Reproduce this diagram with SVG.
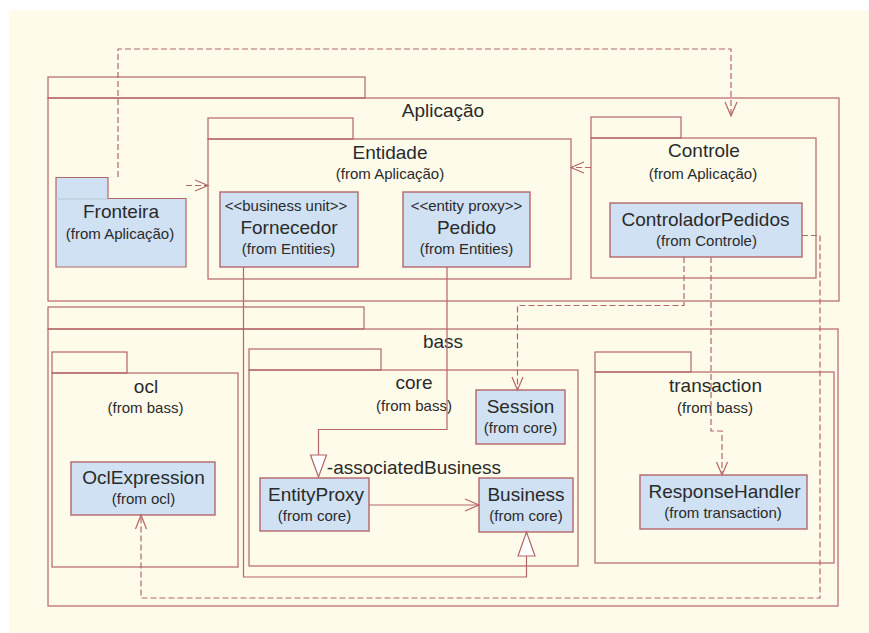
<svg xmlns="http://www.w3.org/2000/svg" width="869" height="633" viewBox="0 0 869 633">
<defs>
<style>
.pk{fill:none;stroke:#B4666A;stroke-width:1.2}
.pf{fill:#CFE1F3;stroke:#B4666A;stroke-width:1.2}
.cl{fill:#CFE1F3;stroke:#B4666A;stroke-width:1.4}
.ln{fill:none;stroke:#B4666A;stroke-width:1.2}
.dl{fill:none;stroke:#B4666A;stroke-width:1.2;stroke-dasharray:6 3}
.ah{fill:none;stroke:#B4666A;stroke-width:1.2}
.tri{fill:#FFFFFF;stroke:#B4666A;stroke-width:1.2}
text{font-family:"Liberation Sans",Arial,sans-serif;fill:#2A2A2A;text-anchor:middle}
.t{font-size:19px}
.s{font-size:15px}
</style>
</defs>
<rect x="0" y="0" width="869" height="633" fill="#FFFFFF"/>
<rect x="9" y="10" width="860" height="623" fill="#FEFBEA"/>

<g id="pkg-aplicacao">
<rect class="pk" x="48" y="77" width="317" height="21"/>
<rect class="pk" x="48" y="98" width="791" height="203"/>
<text class="t" x="443" y="117">Aplicação</text>
</g>
<g id="pkg-entidade">
<rect class="pk" x="208" y="118" width="145" height="21"/>
<rect class="pk" x="208" y="139" width="363" height="140"/>
<text class="t" x="390" y="159">Entidade</text>
<text class="s" x="390" y="179">(from Aplicação)</text>
</g>
<g id="pkg-controle">
<rect class="pk" x="591" y="117" width="90" height="21"/>
<rect class="pk" x="591" y="138" width="225" height="140"/>
<text class="t" x="704" y="157">Controle</text>
<text class="s" x="703" y="179">(from Aplicação)</text>
</g>
<g id="pkg-fronteira">
<path class="pf" d="M56,177.5 H108 V198.5 H186 V267 H56 Z"/>
<line x1="56" y1="199" x2="108" y2="199" stroke="#B9C6D6" stroke-width="1"/>
<text class="t" x="121" y="218">Fronteira</text>
<text class="s" x="120" y="239">(from Aplicação)</text>
</g>
<g id="cls-fornecedor">
<rect class="cl" x="220" y="192" width="138" height="75"/>
<text class="s" x="286" y="210.5">&lt;&lt;business unit&gt;&gt;</text>
<text class="t" x="289" y="234">Fornecedor</text>
<text class="s" x="288.5" y="254">(from Entities)</text>
</g>
<g id="cls-pedido">
<rect class="cl" x="403" y="192" width="127" height="75"/>
<text class="s" x="466.5" y="210.5">&lt;&lt;entity proxy&gt;&gt;</text>
<text class="t" x="466.5" y="234">Pedido</text>
<text class="s" x="466.5" y="254">(from Entities)</text>
</g>
<g id="cls-controladorpedidos">
<rect class="cl" x="610" y="203" width="192" height="54"/>
<text class="t" x="705.5" y="226">ControladorPedidos</text>
<text class="s" x="706.5" y="245.5">(from Controle)</text>
</g>

<g id="pkg-bass">
<rect class="pk" x="48" y="307" width="316" height="22"/>
<rect class="pk" x="48" y="329" width="790" height="277"/>
<text class="t" x="443" y="347.5">bass</text>
</g>
<g id="pkg-ocl">
<rect class="pk" x="52" y="352" width="75" height="21"/>
<rect class="pk" x="52" y="373" width="186" height="194"/>
<text class="t" x="146" y="393">ocl</text>
<text class="s" x="145.5" y="413">(from bass)</text>
</g>
<g id="pkg-core">
<rect class="pk" x="249" y="349" width="132" height="21"/>
<rect class="pk" x="249" y="370" width="329" height="196"/>
<text class="t" x="414" y="389">core</text>
<text class="s" x="414" y="410.5">(from bass)</text>
</g>
<g id="pkg-transaction">
<rect class="pk" x="595" y="352" width="96" height="20"/>
<rect class="pk" x="595" y="372" width="239" height="191"/>
<text class="t" x="715.5" y="391.5">transaction</text>
<text class="s" x="715" y="412.5">(from bass)</text>
</g>
<g id="cls-oclexpression">
<rect class="cl" x="71" y="462" width="144" height="53"/>
<text class="t" x="143.5" y="484">OclExpression</text>
<text class="s" x="143.5" y="504">(from ocl)</text>
</g>
<g id="cls-session">
<rect class="cl" x="476" y="390" width="89" height="54"/>
<text class="t" x="520.5" y="413">Session</text>
<text class="s" x="520.5" y="433">(from core)</text>
</g>
<g id="cls-entityproxy">
<rect class="cl" x="260" y="478" width="109" height="53"/>
<text class="t" x="316" y="501">EntityProxy</text>
<text class="s" x="314.5" y="521">(from core)</text>
</g>
<g id="cls-business">
<rect class="cl" x="479" y="478" width="94" height="54"/>
<text class="t" x="526" y="500.5">Business</text>
<text class="s" x="526" y="521">(from core)</text>
</g>
<g id="cls-responsehandler">
<rect class="cl" x="640" y="475" width="167" height="54"/>
<text class="t" x="724.5" y="497.5">ResponseHandler</text>
<text class="s" x="723" y="517.5">(from transaction)</text>
</g>

<g id="connectors">
<!-- Fronteira -> Controle -->
<path class="dl" d="M118,177 V49 H731 V116"/>
<path class="ah" d="M725,102 L731,116 L737,102"/>
<!-- Fronteira -> Entidade -->
<path class="dl" d="M186,185.5 H207"/>
<path class="ah" d="M195,180 L208,185.5 L195,191"/>
<!-- Controle -> Entidade -->
<path class="dl" d="M591,167.5 H572"/>
<path class="ah" d="M584,162 L571,167.5 L584,173"/>
<!-- ControladorPedidos -> Session -->
<path class="dl" d="M684,257 V305.5 H517.5 V389"/>
<path class="ah" d="M512,377 L517.5,390 L523,377"/>
<!-- ControladorPedidos -> ResponseHandler -->
<path class="dl" d="M711,257 V431 H722 V474"/>
<path class="ah" d="M716.5,462 L722,475 L727.5,462"/>
<!-- ControladorPedidos -> OclExpression -->
<path class="dl" d="M802,235.5 H820 V598 H141 V516"/>
<path class="ah" d="M135.5,529 L141,515 L146.5,529"/>
<!-- Pedido -> EntityProxy association -->
<path class="ln" d="M447,267 V429.5 H318.5 V455"/>
<path class="tri" d="M310.5,455 L326.5,455 L318.5,477 Z"/>
<text class="t" x="414" y="474">-associatedBusiness</text>
<!-- EntityProxy -> Business -->
<path class="ln" d="M369,505 H478"/>
<path class="ah" d="M465,499 L479,505 L465,511"/>
<!-- Fornecedor -> Business generalization -->
<path class="ln" d="M243.5,267 V577 H526.5 V556"/>
<path class="tri" d="M518,556 L535,556 L526.5,532 Z"/>
</g>
</svg>
